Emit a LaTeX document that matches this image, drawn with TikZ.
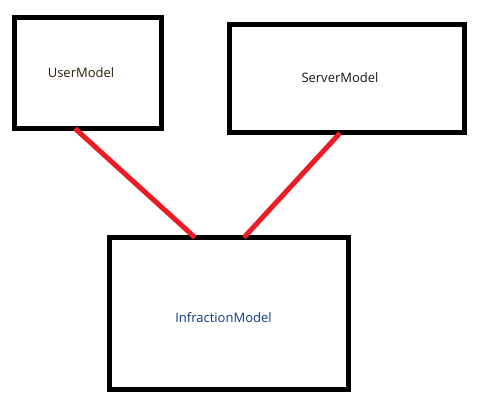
\documentclass[tikz,border=0pt]{standalone}
\usepackage{fontspec}
\setmainfont{Open Sans}
\usetikzlibrary{positioning,calc}
\definecolor{paintred}{HTML}{ED1C24}
\definecolor{usertext}{HTML}{2A1C08}
\definecolor{servertext}{HTML}{14141C}
\definecolor{infrtext}{HTML}{0C3A80}

\begin{document}
\begin{tikzpicture}[x=1pt,y=-1pt,
      model/.style={rectangle,draw=black,line width=5pt,inner sep=0pt,outer sep=0pt},
      lbl/.style={font=\fontsize{13}{15}\selectfont,inner sep=0pt},
      link/.style={draw=paintred,line width=5pt}]
    \useasboundingbox (0,0) rectangle (492,419);
    \node[model,minimum width=147pt,minimum height=111pt](user) at (88,73){};
    \node[model,minimum width=235pt,minimum height=108pt](server) at (346.5,79){};
    \node[model,minimum width=239pt,minimum height=152pt](infr) at (229,313.5){};
    \node[lbl,text=usertext](userlbl) at (81,73){UserModel};
    \node[lbl,text=servertext](serverlbl) at (340,78){ServerModel};
    \node[lbl,text=infrtext](infrlbl) at (223.5,318){InfractionModel};
    \draw[link]([xshift=-13pt]user.south)--([xshift=-34pt]infr.north);
    \draw[link]([xshift=-6.5pt]server.south)--([xshift=15pt]infr.north);
  \end{tikzpicture}
\end{document}
